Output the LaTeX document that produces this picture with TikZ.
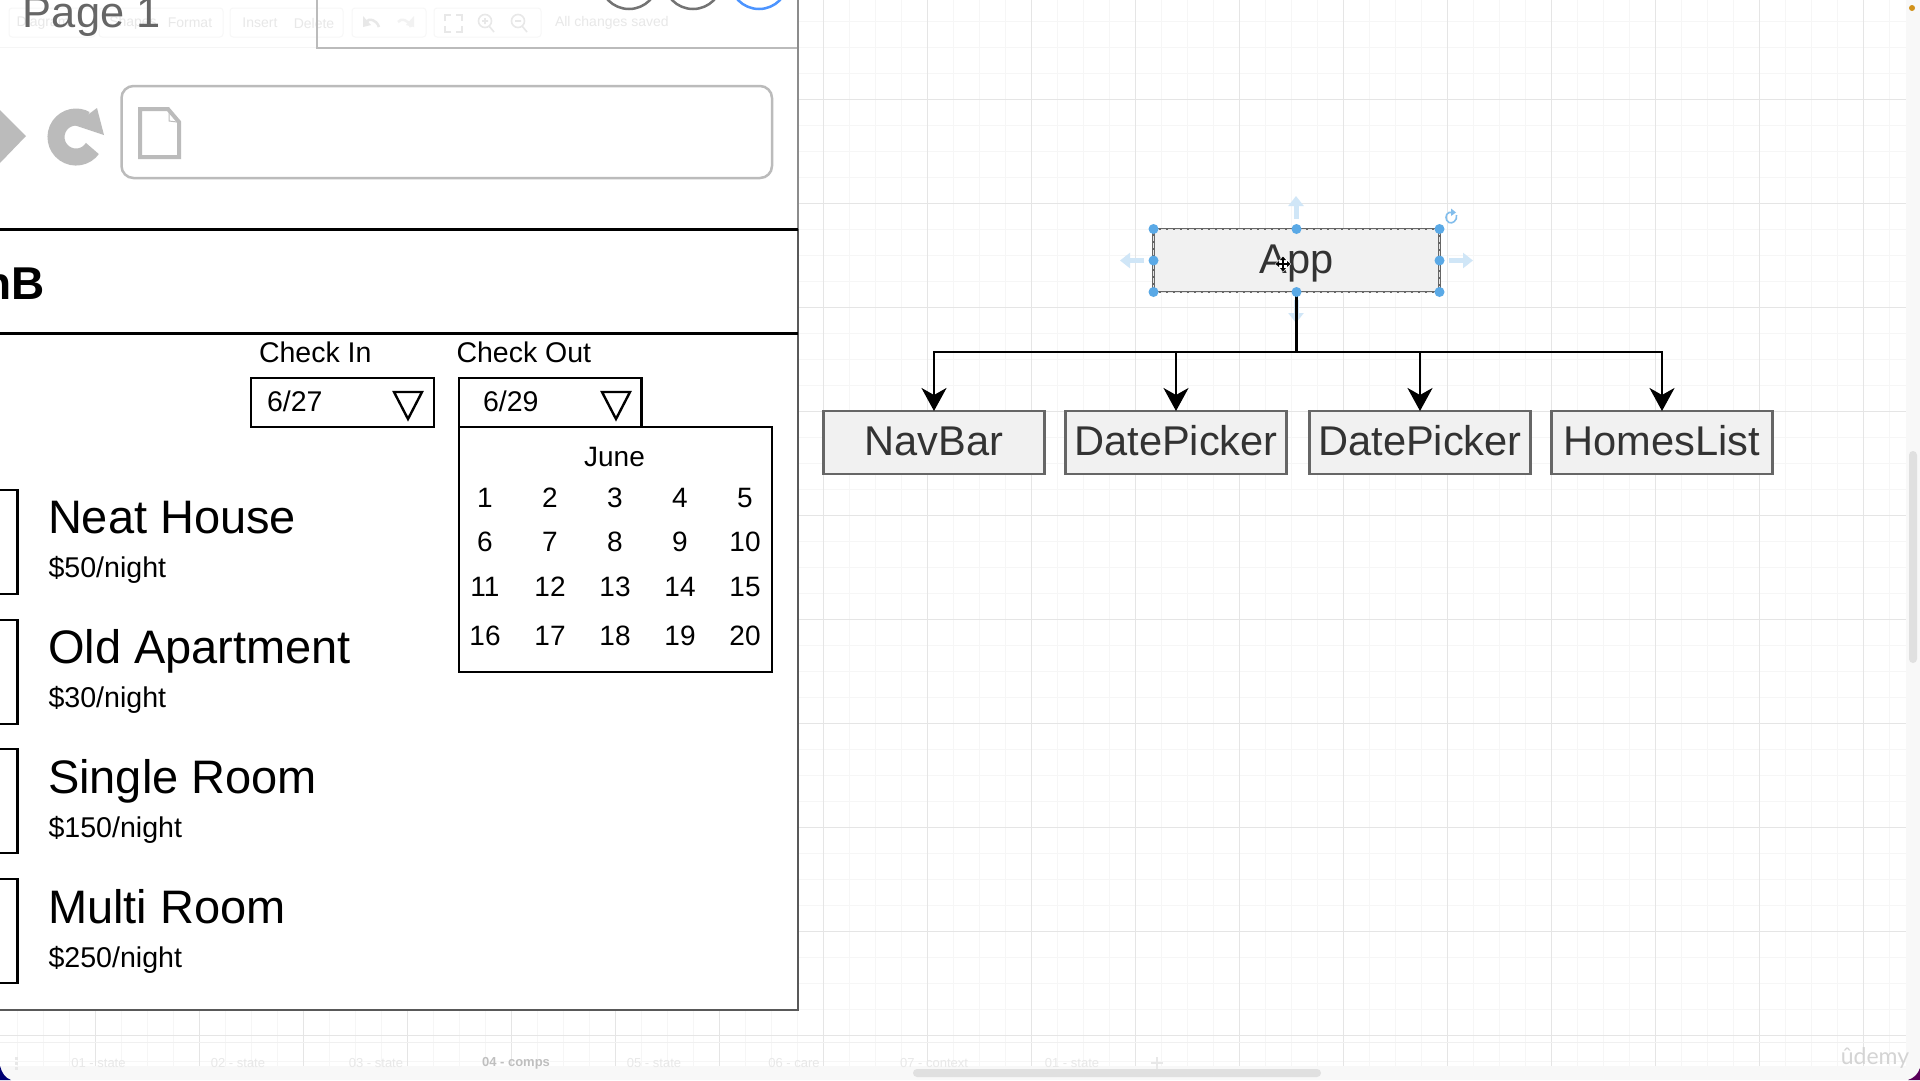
\documentclass[tikz,border=0pt]{standalone}
\usepackage{fontspec}
\setmainfont{Liberation Sans}
\newfontfamily\udfont{Lato}
\usetikzlibrary{arrows.meta}
\definecolor{inkgrey}{HTML}{333333}
\definecolor{boxedge}{HTML}{666666}
\definecolor{boxfill}{HTML}{F1F1F1}
\definecolor{sel}{HTML}{5AA9E6}
\definecolor{selfaint}{HTML}{D0E6F7}
\definecolor{wire}{HTML}{BBBBBB}
\definecolor{faint}{HTML}{E8E8E8}
\definecolor{facefill}{HTML}{F8F8F8}
\tikzset{
  x=1pt,y=-1pt,
  fs/.style={font=\fontsize{#1}{#1}\selectfont},
  lab/.style={inner sep=0pt,outer sep=0pt,anchor=base west},
  ctr/.style={inner sep=0pt,outer sep=0pt,anchor=center},
  cbox/.style={draw=boxedge,fill=boxfill,line width=2.5pt,text=inkgrey,inner sep=0pt,outer sep=0pt,
    minimum height=63pt,text height=30pt,text depth=5pt,fs=41.6},
  conn/.style={draw=black,line width=2.6pt,-{Stealth[length=23pt,width=25pt,inset=7pt]}},
  trunk/.style={draw=black,line width=3pt},
  gmaj/.style={draw=#1,line width=1pt},
  handle/.style={circle,fill=sel,inner sep=0pt,minimum size=10pt},
  faintarrow/.style={draw=selfaint,line width=5pt,-{Triangle[length=10pt,width=15pt]}},
  tab/.style={ctr,fs=13,text=faint},
  tbtxt/.style={ctr,fs=14,text=faint},
  tbgroup/.style={draw=black!3,line width=1pt,rounded corners=3pt},
  wirefill/.style={fill=wire},
  wireline/.style={draw=wire,line width=2.5pt},
  framel/.style={draw=black,line width=3pt},
  tri/.style={draw=black,line width=2.4pt,line join=miter},
  thumb/.style={draw=black,line width=2.6pt},
  scrollb/.style={fill=black!12,rounded corners=4pt}
}
\begin{document}
\begin{tikzpicture}
\useasboundingbox (0,0) rectangle (1920,1080);
\clip (0,0) rectangle (1920,1080);
\fill[white] (0,0) rectangle (1920,1080);
% canvas grid
\foreach \k in {0,...,72} {\draw[draw=black!3.5,line width=1.4pt] (17.5+26*\k,0) -- (17.5+26*\k,1066);}
\foreach \k in {0,...,40} {\draw[draw=black!3.5,line width=1.4pt] (0,21.3+26*\k) -- (1906,21.3+26*\k);}
\foreach \k in {0,...,17} {\draw[gmaj=black!10] (95.5+104*\k,0) -- (95.5+104*\k,1066);}
\foreach \k in {0,...,9} {\draw[gmaj=black!10] (0,99.3+104*\k) -- (1906,99.3+104*\k);}
\draw[gmaj=black!6] (0,1042.5) -- (1906,1042.5);
% app chrome
\fill[facefill] (0,1066) rectangle (1920,1080);
\fill[facefill] (1906,0) rectangle (1920,1080);
\fill[scrollb] (913,1069) rectangle (1321,1077);
\fill[scrollb] (1909,451) rectangle (1917,663);
\fill[black!55!blue] (0,1066) -- (0,1080) -- (11,1080) .. controls (5,1078) and (2,1073) .. (0,1066) -- cycle;
\fill[black!30!violet] (1920,1068) -- (1920,1080) -- (1908,1080) .. controls (1914,1078) and (1918,1074) .. (1920,1068) -- cycle;
\fill[orange!70!yellow!80!black!90] (1912,8) circle (3pt);
\foreach \i/\xx/\tt in {1/98.5/01 - state,2/238/02 - state,3/376/03 - state,5/654/05 - state,6/794/06 - care,7/934/07 - context,8/1072/01 - state}
  {\node[tab] (tab\i) at (\xx,1063) {\tt};}
\node[tab,text=black!25] (tab4) at (516,1063) {\textbf{04 - comps}};
\foreach \yy in {1058,1063,1068} {\fill[faint] (14.5,\yy-1.5) rectangle (17.5,\yy+1.5);}
\draw[draw=faint,line width=2.5pt] (1157,1057) -- (1157,1069) (1151,1063) -- (1163,1063);
\node[ctr,fs=23,text=black!17] (udemy) at (1875,1058) {\udfont ûdemy};
% left page
\fill[white] (0,0) rectangle (798,1010);
% faint toolbar
\draw[tbgroup] (9,8) rectangle (95,37);
\draw[tbgroup] (99,8) rectangle (223,37);
\draw[tbgroup] (230,8) rectangle (343,37);
\draw[tbgroup] (352,8) rectangle (426,37);
\draw[tbgroup] (434,8) rectangle (541,37);
\draw[draw=black!4,line width=1pt] (0,47) -- (317,47);
\node[tbtxt] (tdiag) at (43,23) {Diagram};
\node[tbtxt] (tshape) at (133,23) {Shapes};
\node[tbtxt] (tformat) at (190,23) {Format};
\node[tbtxt] (tinsert) at (260,23) {Insert};
\node[tbtxt] (tdelete) at (314,23) {Delete};
\node[tbtxt,anchor=west] (tsaved) at (555,23) {All changes saved};
\draw[draw=faint,line width=2.5pt] (379,27) .. controls (376,19) and (369,18) .. (366,22);
\draw[draw=black!5,line width=2.5pt] (398,22) .. controls (401,18) and (408,19) .. (411,27);
\fill[faint] (363,16) -- (371,25) -- (363,27) -- cycle;
\fill[black!5] (414,16) -- (414,27) -- (406,25) -- cycle;
\draw[draw=faint,line width=2pt] (445,21) -- (445,15) -- (451,15) (456,15) -- (462,15) -- (462,21) (462,26) -- (462,32) -- (456,32) (451,32) -- (445,32) -- (445,26);
\draw[draw=faint,line width=1.6pt] (485,21) circle (6.5pt) (489,26) -- (494,32) (482,21) -- (488,21) (485,18) -- (485,24);
\draw[draw=faint,line width=1.6pt] (518,21) circle (6.5pt) (522,26) -- (527,32) (515,21) -- (521,21);
% wireframe
\draw[draw=black!55,line width=2.5pt] (629,-20) circle (29pt);
\draw[draw=black!55,line width=2.5pt] (693,-20) circle (29pt);
\draw[draw=blue!60!cyan!70,line width=2.5pt] (759,-20) circle (29pt);
\draw[wireline] (317,0) -- (317,48) -- (798,48);
\node[lab,fs=43.4,text=black!60] (pagetitle) at (23,27) {Page 1};
\fill[wirefill] (0,110) -- (26,136) -- (0,163) -- cycle;
\draw[draw=wire,line width=17pt] (92.4,148.5) arc[start angle=35,end angle=300,radius=20];
\fill[wirefill] (97,108) -- (104,135) -- (74,125) -- cycle;
\draw[wireline,rounded corners=12pt] (121.5,86) rectangle (772,178);
\draw[draw=wire,line width=4pt,line join=miter] (140,109) -- (168,109) -- (179,122) -- (179,157) -- (140,157) -- cycle;
\draw[draw=wire,line width=1pt] (169,111) -- (169,121) -- (177,122);
% frame
\draw[draw=black!45,line width=2.5pt] (798,0) -- (798,229);
\draw[draw=black!65,line width=2.5pt] (798,229) -- (798,1010) -- (0,1010);
\draw[framel] (0,229) -- (798,229);
\draw[framel] (0,333) -- (798,333);
\node[lab,fs=46] (logo) at (-16.5,299) {\textbf{nB}};
% date pickers
\node[lab,fs=28.5] (cin) at (259,362) {Check In};
\node[lab,fs=28.5] (cout) at (456.5,362) {Check Out};
\draw[thumb] (251,378) rectangle (434,427);
\draw[thumb] (459,378) rectangle (641.5,427);
\node[lab,fs=28.5] (din) at (267,411) {6/27};
\node[lab,fs=28.5] (dout) at (483,411) {6/29};
\draw[tri] (394,392) -- (422,392) -- (408,419) -- cycle;
\draw[tri] (602,392) -- (630,392) -- (616,419) -- cycle;
\draw[thumb,fill=white] (459,427) rectangle (772,672);
\node[ctr,fs=28] (june) at (614.5,457) {June};
\foreach \n/\c/\r in {1/485/498,2/550/498,3/615/498,4/680/498,5/745/498,
  6/485/542,7/550/542,8/615/542,9/680/542,10/745/542,
  11/485/587,12/550/587,13/615/587,14/680/587,15/745/587,
  16/485/636,17/550/636,18/615/636,19/680/636,20/745/636}
  {\node[ctr,fs=28] (day\n) at (\c,\r) {\n};}
% listing
\draw[thumb] (-5,490) rectangle (17.5,594);
\draw[thumb] (-5,620) rectangle (17.5,724);
\draw[thumb] (-5,749) rectangle (17.5,853);
\draw[thumb] (-5,879) rectangle (17.5,983);
\node[lab,fs=47] (h1) at (48,533) {Neat House};
\node[lab,fs=28.6] (p1) at (48.5,577) {\$50/night};
\node[lab,fs=47] (h2) at (48,663) {Old Apartment};
\node[lab,fs=28.6] (p2) at (48.5,707) {\$30/night};
\node[lab,fs=47] (h3) at (48,793) {Single Room};
\node[lab,fs=28.6] (p3) at (48.5,837) {\$150/night};
\node[lab,fs=47] (h4) at (48,923) {Multi Room};
\node[lab,fs=28.6] (p4) at (48.5,967) {\$250/night};
% component tree
\node[cbox,minimum width=221pt] (nav) at (934,442.5) {NavBar};
\node[cbox,minimum width=221pt] (dp1) at (1176,442.5) {DatePicker};
\node[cbox,minimum width=221pt] (dp2) at (1420,442.5) {DatePicker};
\node[cbox,minimum width=221pt] (homes) at (1662,442.5) {HomesList};
\node[cbox,minimum width=286pt,draw=none] (app) at (1296.5,260.5) {App};
\draw[draw=boxedge,line width=2.6pt] (app.north west) rectangle (app.south east);
\draw[draw=white!80!gray,line width=1pt,dash pattern=on 5pt off 2pt] (app.north west) rectangle (app.south east);
\coordinate (bus) at (1296.5,352);
\draw[faintarrow] (1296,219) -- (1296,196);
\draw[faintarrow] (1144,260.5) -- (1120,260.5);
\draw[faintarrow] (1449,260.5) -- (1473,260.5);
\draw[faintarrow] (1296,300) -- (1296,323);
\draw[trunk] (app.south) -- (bus);
\draw[conn] (bus) -| (nav.north);
\draw[conn] (bus) -| (dp1.north);
\draw[conn] (bus) -| (dp2.north);
\draw[conn] (bus) -| (homes.north);
\foreach \a in {north west,north,north east,west,east,south west,south,south east}
  {\node[handle] at (app.\a) {};}
\draw[draw=sel!75,line width=1.6pt] (1456.5,215) .. controls (1457.5,221) and (1452,224) .. (1449,222.5) .. controls (1445,220.5) and (1445,214) .. (1449,212.5) -- (1452,212.5);
\fill[sel!75] (1451,208.5) -- (1451,216) -- (1456,212.5) -- cycle;
% cursor
\fill[white] (1283,256) -- (1291,264) -- (1283,272) -- (1275,264) -- cycle;
\draw[draw=black,line width=1.6pt] (1277,264) -- (1289,264) (1283,258) -- (1283,270);
\fill[black] (1283,256.5) -- (1280,260) -- (1286,260) -- cycle (1283,271.5) -- (1280,268) -- (1286,268) -- cycle (1275.5,264) -- (1279,261) -- (1279,267) -- cycle (1290.5,264) -- (1287,261) -- (1287,267) -- cycle;
\end{tikzpicture}
\end{document}
